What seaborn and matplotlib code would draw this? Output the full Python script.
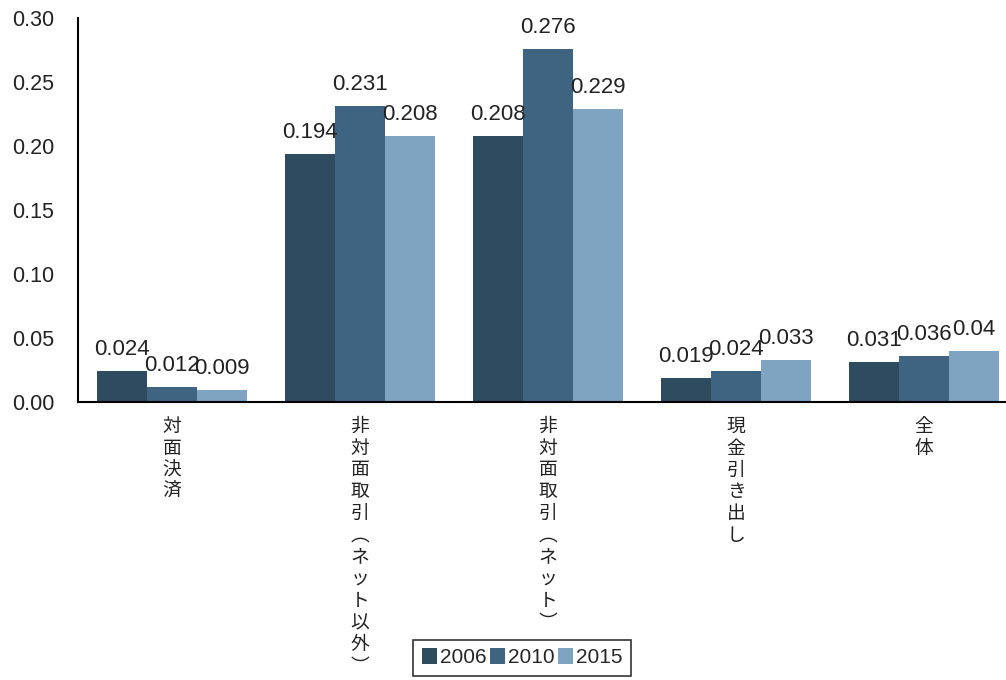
import pandas as pd
import seaborn as sns
import matplotlib.pyplot as plt

# data
categories = ['対面決済', '非対面取引︵ネット以外︶', '非対面取引︵ネット︶', '現金引き出し', '全体']
years = ['2006', '2010', '2015']
v2006 = [0.024, 0.194, 0.208, 0.019, 0.031]
v2010 = [0.012, 0.231, 0.276, 0.024, 0.036]
v2015 = [0.009, 0.208, 0.229, 0.033, 0.04]
bar_labels = {
    '2006': ['0.024', '0.194', '0.208', '0.019', '0.031'],
    '2010': ['0.012', '0.231', '0.276', '0.024', '0.036'],
    '2015': ['0.009', '0.208', '0.229', '0.033', '0.04'],
}
colors = ['#2f4b60', '#3e6482', '#7ea4c1']

df = pd.DataFrame({
    'category': categories * 3,
    'year': [y for y in years for _ in categories],
    'value': v2006 + v2010 + v2015,
})

sns.set_style('white')
plt.rcParams['font.family'] = ['Liberation Sans', 'Noto Sans CJK JP', 'DejaVu Sans']

fig = plt.figure(figsize=(10.06, 6.8), dpi=100)
ax = fig.add_axes([78 / 1006, 278 / 680, 940 / 1006, 384 / 680])

sns.barplot(data=df, x='category', y='value', hue='year', palette=colors,
            width=0.8, gap=0, saturation=1, linewidth=0, ax=ax, legend=True)

for cont, yr in zip(ax.containers, years):
    ax.bar_label(cont, labels=bar_labels[yr], padding=8, fontsize=16, color='#222222')

ax.set_ylim(0, 0.30)
ax.set_yticks([0, 0.05, 0.10, 0.15, 0.20, 0.25, 0.30])
ax.set_yticklabels([f'{t:.2f}' for t in ax.get_yticks()], fontsize=15.5, color='#222222')
ax.set_xlim(-0.5, len(categories) - 0.5)

# boundary ticks (major) and vertical labels (minor)
ax.set_xticks([i - 0.5 for i in range(len(categories) + 1)])
ax.set_xticklabels([])
ax.set_xticks(range(len(categories)), minor=True)
ax.set_xticklabels(['\n'.join(c) for c in categories], minor=True,
                   fontsize=13.5, linespacing=1.05, va='top', color='#222222',
                   family=['Noto Sans CJK JP', 'DejaVu Sans'])
ax.tick_params(axis='x', which='major', direction='out', length=4.5, width=1.5, color='black')
ax.tick_params(axis='x', which='minor', length=0, pad=10)
ax.tick_params(axis='y', direction='out', length=4, width=1.5, color='black', pad=13)
ax.set_xlabel('')
ax.set_ylabel('')

for s in ['top', 'right']:
    ax.spines[s].set_visible(False)
for s in ['left', 'bottom']:
    ax.spines[s].set_color('black')
    ax.spines[s].set_linewidth(1.5)

leg = ax.legend(title=None, ncol=3, loc='upper center', bbox_to_anchor=(522 / 1006, 1 - 640 / 680),
                bbox_transform=fig.transFigure, fontsize=15, frameon=True, fancybox=False,
                handlelength=0.75, handleheight=0.75, handletextpad=0.12, columnspacing=0.15,
                borderpad=0.4, borderaxespad=0)
leg.get_frame().set_edgecolor('black')
leg.get_frame().set_linewidth(1.2)

fig.savefig('out.png', dpi=100)
